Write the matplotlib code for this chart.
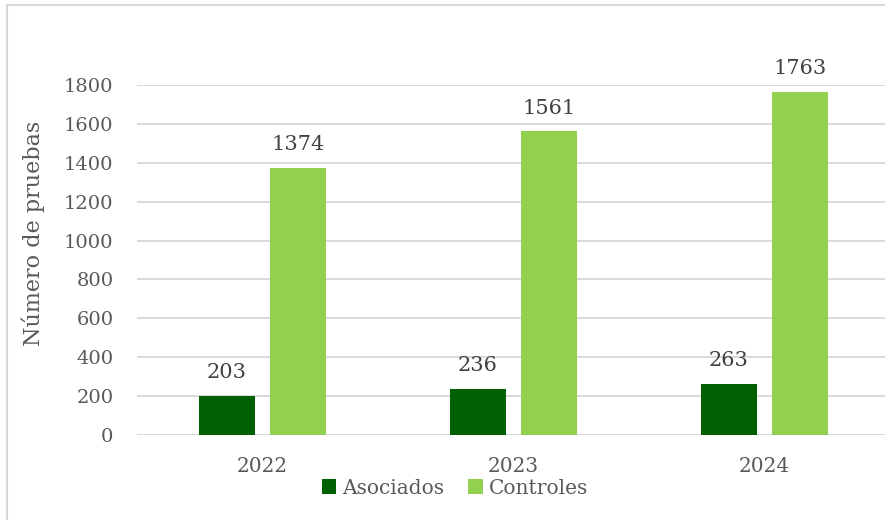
import matplotlib.pyplot as plt
import numpy as np
from matplotlib.patches import Rectangle

years = ["2022", "2023", "2024"]
asociados = [203, 236, 263]
controles = [1374, 1561, 1763]
series_names = ["Asociados", "Controles"]

plt.rcParams['font.family'] = ['DejaVu Serif']
text_color = "#595959"

fig = plt.figure(figsize=(8.85, 5.2), dpi=100)
ax = fig.add_axes([137 / 885, 85 / 520, 753 / 885, 350 / 520])

# light frame around the chart (cut off at right/bottom like the source)
fig.patches.append(Rectangle((7 / 885, -0.1), 1.2, (520 - 5) / 520 + 0.1,
                             transform=fig.transFigure, fill=False,
                             edgecolor="#D9D9D9", linewidth=1.5))

x = np.arange(len(years))
w = 0.223
off = 0.143
b1 = ax.bar(x - off, asociados, width=w, color="#005F00", label=series_names[0], zorder=3)
b2 = ax.bar(x + off, controles, width=w, color="#92D050", label=series_names[1], zorder=3)

for bars in (b1, b2):
    for rect in bars:
        ax.annotate(f"{int(rect.get_height())}",
                    (rect.get_x() + rect.get_width() / 2, rect.get_height()),
                    xytext=(0, 10), textcoords="offset points",
                    ha="center", va="bottom", fontsize=15, color="#404040",
                    annotation_clip=False)

ax.set_xlim(-0.5, 2.5)
ax.set_ylim(0, 1800)
ax.set_yticks(np.arange(0, 1801, 200))
ax.set_xticks(x)
ax.set_xticklabels(years)
ax.tick_params(axis="y", length=0, pad=17, labelsize=14, labelcolor=text_color)
ax.tick_params(axis="x", length=0, pad=16, labelsize=14.5, labelcolor=text_color)
ax.grid(axis="y", color="#D9D9D9", linewidth=1.4, zorder=0)
ax.set_axisbelow(True)
for s in ax.spines.values():
    s.set_visible(False)

fig.text(33 / 885, 1 - 233 / 520, "Número de pruebas", rotation=90,
         ha="center", va="center", fontsize=16, color=text_color)

fig.legend(loc="center", bbox_to_anchor=(455 / 885, 1 - 488 / 520), ncol=2,
           frameon=False, fontsize=14.5, labelcolor=text_color,
           handlelength=0.7, handleheight=0.7, handletextpad=0.3,
           columnspacing=1.2)

fig.savefig("out.png", dpi=100)
